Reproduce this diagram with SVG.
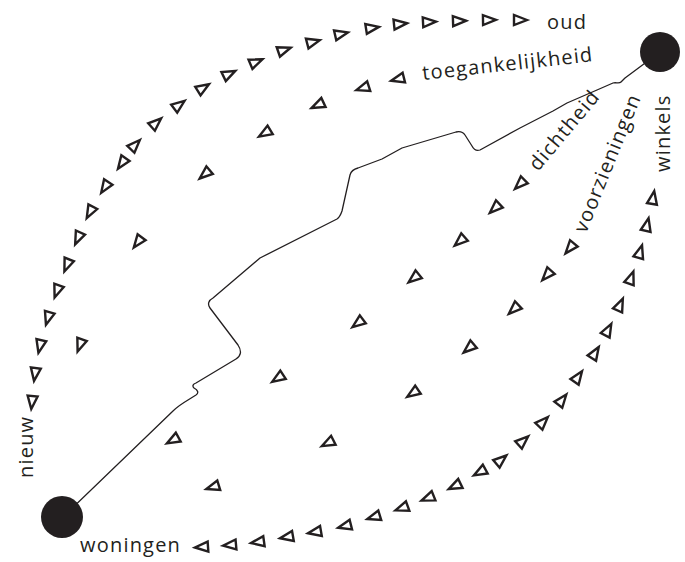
<svg xmlns="http://www.w3.org/2000/svg" xmlns:xlink="http://www.w3.org/1999/xlink" width="685" height="562" viewBox="0 0 685 562">
<style>
.tri{fill:#fff;stroke:#231f20;stroke-width:2.4;stroke-linejoin:miter;stroke-miterlimit:4}
.lbl{font-family:"Open Sans","Noto Sans",sans-serif;font-size:20px;letter-spacing:1.2px;fill:#231f20}
.route{fill:none;stroke:#231f20;stroke-width:1.3;stroke-linejoin:round}
.dot{fill:#231f20}
</style>
<defs>
<path id="t" class="tri" d="M7,0 L-6,-5 L-6,5 Z"/>
</defs>
<rect width="685" height="562" fill="#fff"/>

<g id="connectors">
<path class="route" d="M63,517 L173,411 C178,406 183,403 188,400 L196,395 C199,393 198,390 194,388 C192,386 193,384 196,383 L236,359 C241,356 242,351 238,345 L210,308 C207,304 209,300 213,298 L260,258 L337,219 C340,217 341,214 342,211 L350,175 C351,171 354,169 358,168 L382,159 L402,148 L456,132 C460,131 463,132 465,135 L472,146 C474,150 477,151 480,150 L520,128 L553,111 L567,103 L597,90 L613,83 C616,82 619,84 621,82 L625,78 L660,52"/>
</g>

<g id="node-a"><circle class="dot" cx="660" cy="52" r="20"/></g>
<g id="node-b"><circle class="dot" cx="62" cy="517" r="21"/></g>

<g id="arc-oud-nieuw">
<use xlink:href="#t" transform="translate(32,402) rotate(96)"/>
<use xlink:href="#t" transform="translate(35,374) rotate(98)"/>
<use xlink:href="#t" transform="translate(40,346) rotate(103)"/>
<use xlink:href="#t" transform="translate(48,318) rotate(107)"/>
<use xlink:href="#t" transform="translate(57,291) rotate(110)"/>
<use xlink:href="#t" transform="translate(67,265) rotate(112)"/>
<use xlink:href="#t" transform="translate(78,238) rotate(114)"/>
<use xlink:href="#t" transform="translate(90,212) rotate(118)"/>
<use xlink:href="#t" transform="translate(105,187) rotate(123)"/>
<use xlink:href="#t" transform="translate(122,163) rotate(125)"/>
<use xlink:href="#t" transform="translate(135,145) rotate(-46)"/>
<use xlink:href="#t" transform="translate(156,123) rotate(-42)"/>
<use xlink:href="#t" transform="translate(179,105) rotate(-37)"/>
<use xlink:href="#t" transform="translate(203,88) rotate(-32)"/>
<use xlink:href="#t" transform="translate(229,74) rotate(-26)"/>
<use xlink:href="#t" transform="translate(256,62) rotate(-23)"/>
<use xlink:href="#t" transform="translate(284,50) rotate(-19)"/>
<use xlink:href="#t" transform="translate(313,42) rotate(-15)"/>
<use xlink:href="#t" transform="translate(341,34) rotate(-13)"/>
<use xlink:href="#t" transform="translate(372,28) rotate(-9)"/>
<use xlink:href="#t" transform="translate(400,24) rotate(-6)"/>
<use xlink:href="#t" transform="translate(429,22) rotate(-3)"/>
<use xlink:href="#t" transform="translate(459,21) rotate(-2)"/>
<use xlink:href="#t" transform="translate(489,20) rotate(-1)"/>
<use xlink:href="#t" transform="translate(520,20) rotate(0)"/>
</g>

<g id="row-toegankelijkheid">
<use xlink:href="#t" transform="translate(398,79) rotate(166)"/>
<use xlink:href="#t" transform="translate(363,88) rotate(162)"/>
<use xlink:href="#t" transform="translate(318,105) rotate(155)"/>
<use xlink:href="#t" transform="translate(265,133) rotate(149)"/>
<use xlink:href="#t" transform="translate(205,174) rotate(140)"/>
<use xlink:href="#t" transform="translate(138,242) rotate(127)"/>
<use xlink:href="#t" transform="translate(80,345) rotate(110)"/>
</g>

<g id="row-dichtheid">
<use xlink:href="#t" transform="translate(520,184) rotate(136)"/>
<use xlink:href="#t" transform="translate(495,208) rotate(137)"/>
<use xlink:href="#t" transform="translate(460,241) rotate(139)"/>
<use xlink:href="#t" transform="translate(414,278) rotate(141)"/>
<use xlink:href="#t" transform="translate(358,323) rotate(143)"/>
<use xlink:href="#t" transform="translate(278,378) rotate(147)"/>
<use xlink:href="#t" transform="translate(173,440) rotate(151)"/>
</g>

<g id="row-voorzieningen">
<use xlink:href="#t" transform="translate(570,248) rotate(130)"/>
<use xlink:href="#t" transform="translate(547,275) rotate(132)"/>
<use xlink:href="#t" transform="translate(514,309) rotate(137)"/>
<use xlink:href="#t" transform="translate(469,348) rotate(140)"/>
<use xlink:href="#t" transform="translate(413,393) rotate(146)"/>
<use xlink:href="#t" transform="translate(328,443) rotate(153)"/>
<use xlink:href="#t" transform="translate(213,487) rotate(163)"/>
</g>

<g id="arc-winkels-woningen">
<use xlink:href="#t" transform="translate(653,198) rotate(-80)"/>
<use xlink:href="#t" transform="translate(647,225) rotate(-77)"/>
<use xlink:href="#t" transform="translate(640,252) rotate(-73)"/>
<use xlink:href="#t" transform="translate(631,278) rotate(-70)"/>
<use xlink:href="#t" transform="translate(620,305) rotate(-66)"/>
<use xlink:href="#t" transform="translate(608,330) rotate(-62)"/>
<use xlink:href="#t" transform="translate(595,353) rotate(-58)"/>
<use xlink:href="#t" transform="translate(578,377) rotate(-55)"/>
<use xlink:href="#t" transform="translate(562,400) rotate(-52)"/>
<use xlink:href="#t" transform="translate(543,422) rotate(-46)"/>
<use xlink:href="#t" transform="translate(523,441) rotate(-42)"/>
<use xlink:href="#t" transform="translate(501,460) rotate(-40)"/>
<use xlink:href="#t" transform="translate(480,472) rotate(151)"/>
<use xlink:href="#t" transform="translate(455,486) rotate(154)"/>
<use xlink:href="#t" transform="translate(428,498) rotate(158)"/>
<use xlink:href="#t" transform="translate(402,508) rotate(160)"/>
<use xlink:href="#t" transform="translate(374,517) rotate(163)"/>
<use xlink:href="#t" transform="translate(345,526) rotate(166)"/>
<use xlink:href="#t" transform="translate(315,532) rotate(170)"/>
<use xlink:href="#t" transform="translate(287,537) rotate(170)"/>
<use xlink:href="#t" transform="translate(258,542) rotate(172)"/>
<use xlink:href="#t" transform="translate(230,545) rotate(175)"/>
<use xlink:href="#t" transform="translate(202,547) rotate(176)"/>
</g>

<g id="labels">
<text class="lbl" x="547" y="29">oud</text>
<text class="lbl" transform="translate(423,80) rotate(-6.3)">toegankelijkheid</text>
<text class="lbl" transform="translate(538,172) rotate(-50)">dichtheid</text>
<text class="lbl" transform="translate(586,234) rotate(-68)">voorzieningen</text>
<text class="lbl" transform="translate(670,172) rotate(-90)">winkels</text>
<text class="lbl" transform="translate(33,478) rotate(-90)">nieuw</text>
<text class="lbl" x="80" y="552">woningen</text>
</g>
</svg>
